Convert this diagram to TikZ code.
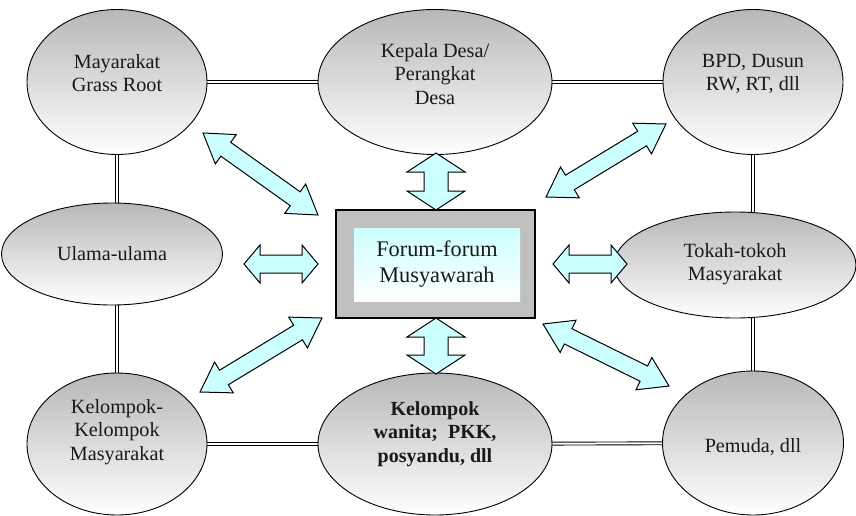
\documentclass[tikz,border=0pt]{standalone}
\usepackage{fontspec}
\setmainfont{Liberation Serif}
\usetikzlibrary{shapes.geometric,calc,backgrounds}
\definecolor{arrowcyan}{HTML}{CCFFFF}
\definecolor{boxgray}{HTML}{C0C0C0}
\tikzset{
  oval/.style={ellipse, draw=black, line width=0.9pt, inner sep=0pt,
    top color=black!28, bottom color=white},
  txt/.style={align=center, font=\fontsize{20.2}{23.5}\selectfont, text=black!90},
  dbl/.style={draw=black, line width=0.9pt, double=white, double distance=2pt},
  barrow/.style={draw=black, line width=1pt, fill=arrowcyan, line join=miter},
}
\newcommand\bidir[5]{%
  \draw[barrow] (#1)
    -- ($(#1)!#3!(#2)!#4!90:(#2)$)
    -- ($(#1)!#3!(#2)!#5!90:(#2)$)
    -- ($(#2)!#3!(#1)!#5!-90:(#1)$)
    -- ($(#2)!#3!(#1)!#4!-90:(#1)$)
    -- (#2)
    -- ($(#2)!#3!(#1)!#4!90:(#1)$)
    -- ($(#2)!#3!(#1)!#5!90:(#1)$)
    -- ($(#1)!#3!(#2)!#5!-90:(#2)$)
    -- ($(#1)!#3!(#2)!#4!-90:(#2)$)
    -- cycle;}
\begin{document}
\begin{tikzpicture}[x=1pt,y=-1pt]
\useasboundingbox (0,0) rectangle (856,516);
% ellipses
\node[oval, minimum width=180pt, minimum height=145pt] (tl) at (117,82) {};
\node[oval, minimum width=234pt, minimum height=145pt] (tm) at (435,82) {};
\node[oval, minimum width=180pt, minimum height=145pt] (tr) at (753,82) {};
\node[oval, minimum width=221pt, minimum height=102pt] (ml) at (112,254) {};
\node[oval, minimum width=242pt, minimum height=106pt] (mr) at (735,265) {};
\node[oval, minimum width=180pt, minimum height=142pt] (bl) at (117,444) {};
\node[oval, minimum width=234pt, minimum height=142pt] (bm) at (435,444) {};
\node[oval, minimum width=181pt, minimum height=144pt] (br) at (753,443) {};
% double connectors behind
\begin{scope}[on background layer]
\draw[dbl] (tl) -- (tm);
\draw[dbl] (tm) -- (tr);
\draw[dbl] (bl) -- (bm);
\draw[dbl] (bm) -- (br);
\draw[dbl] (tl) -- (bl);
\draw[dbl] (tr) -- (br);
\end{scope}
% texts
\node[txt] (tlt) at (117,73) {Mayarakat\\Grass Root};
\node[txt] (tmt) at (435,74) {Kepala Desa/\\Perangkat\\Desa};
\node[txt] (trt) at (753,74) {BPD, Dusun\\RW, RT, dll};
\node[txt] (mlt) at (112,254) {Ulama-ulama};
\node[txt] (mrt) at (735,264) {Tokah-tokoh\\Masyarakat};
\node[txt] (blt) at (117,432) {Kelompok-\\Kelompok\\Masyarakat};
\node[txt, font=\fontsize{20}{23.5}\selectfont\bfseries] (bmt) at (435,434) {Kelompok\\wanita;\ \ PKK,\\posyandu, dll};
\node[txt] (brt) at (753,447) {Pemuda, dll};
% central box
\node[draw=black, line width=1.3pt, fill=boxgray, minimum width=199pt, minimum height=108pt, inner sep=0pt] (box) at (435.5,264) {};
\node[minimum width=166pt, minimum height=73pt, inner sep=0pt, top color=arrowcyan, bottom color=white,
  align=center, font=\fontsize{22.3}{26}\selectfont, text=black!90] (forum) at (437,264.5) {Forum-forum\\Musyawarah};
% arrow end points
\coordinate (a1s) at (203,133); \coordinate (a1e) at (318,215);
\coordinate (a2s) at (666,124); \coordinate (a2e) at (546,197);
\coordinate (a3s) at (200,392); \coordinate (a3e) at (322,318);
\coordinate (a4s) at (669,386); \coordinate (a4e) at (543,324);
\coordinate (a5s) at (244,264); \coordinate (a5e) at (318,264);
\coordinate (a6s) at (553,264); \coordinate (a6e) at (627,264);
\coordinate (a7s) at (436,153); \coordinate (a7e) at (436,210);
\coordinate (a8s) at (436,318); \coordinate (a8e) at (436,374);
\bidir{a1s}{a1e}{28pt}{18pt}{8.5pt}
\bidir{a2s}{a2e}{28pt}{18pt}{8.5pt}
\bidir{a3s}{a3e}{28pt}{18pt}{8.5pt}
\bidir{a4s}{a4e}{28pt}{18pt}{8.5pt}
\bidir{a5s}{a5e}{16pt}{19pt}{9pt}
\bidir{a6s}{a6e}{16pt}{19pt}{9pt}
\bidir{a7s}{a7e}{19pt}{29pt}{12pt}
\bidir{a8s}{a8e}{19pt}{29pt}{12pt}
\end{tikzpicture}
\end{document}
